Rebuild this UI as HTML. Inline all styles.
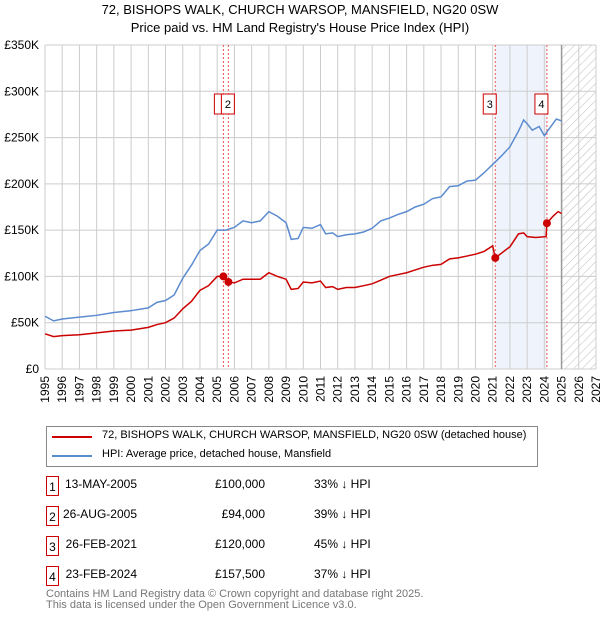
<!DOCTYPE html>
<html><head><meta charset="utf-8"><style>
body{margin:0;background:#fff;font-family:"Liberation Sans","DejaVu Sans",sans-serif;}
#wrap{position:relative;width:600px;height:620px;overflow:hidden}
.t{position:absolute;font-size:12px;color:#000;white-space:nowrap}
.box{position:absolute;left:46px;width:13px;height:20px;border:1px solid #c00;font-size:12px;text-align:center;line-height:20px;box-sizing:border-box}
</style></head><body><div id="wrap">
<div class="t" style="left:0;width:600px;text-align:center;top:2px;font-size:13px">72, BISHOPS WALK, CHURCH WARSOP, MANSFIELD, NG20 0SW</div>
<div class="t" style="left:0;width:600px;text-align:center;top:20px;font-size:13px">Price paid vs. HM Land Registry's House Price Index (HPI)</div>
<svg id="chart" width="600" height="420" style="position:absolute;left:0;top:0" font-family="Liberation Sans, DejaVu Sans, sans-serif"></svg>
<div style="position:absolute;left:46px;top:426px;width:492px;height:41px;border:1px solid #888;box-sizing:border-box">
<div><div style="position:absolute;left:5px;top:9px;width:40px;height:2px;background:#c00"></div><div class="t" style="left:55px;top:2px;font-size:11px">72, BISHOPS WALK, CHURCH WARSOP, MANSFIELD, NG20 0SW (detached house)</div></div>
<div><div style="position:absolute;left:5px;top:28px;width:40px;height:2px;background:#5b8bd0"></div><div class="t" style="left:55px;top:21px;font-size:11px">HPI: Average price, detached house, Mansfield</div></div>
</div>
<div>
<div><div class="box" style="top:476px">1</div><div class="t" style="left:60px;width:77px;text-align:right;top:477px">13-MAY-2005</div><div class="t" style="left:180px;width:85px;text-align:right;top:477px">£100,000</div><div class="t" style="left:314px;top:477px">33% ↓ HPI</div></div>
<div><div class="box" style="top:506px">2</div><div class="t" style="left:60px;width:77px;text-align:right;top:507px">26-AUG-2005</div><div class="t" style="left:180px;width:85px;text-align:right;top:507px">£94,000</div><div class="t" style="left:314px;top:507px">39% ↓ HPI</div></div>
<div><div class="box" style="top:536px">3</div><div class="t" style="left:60px;width:77px;text-align:right;top:537px">26-FEB-2021</div><div class="t" style="left:180px;width:85px;text-align:right;top:537px">£120,000</div><div class="t" style="left:314px;top:537px">45% ↓ HPI</div></div>
<div><div class="box" style="top:566px">4</div><div class="t" style="left:60px;width:77px;text-align:right;top:567px">23-FEB-2024</div><div class="t" style="left:180px;width:85px;text-align:right;top:567px">£157,500</div><div class="t" style="left:314px;top:567px">37% ↓ HPI</div></div>
</div>
<div class="t" style="left:46px;top:589px;font-size:11px;color:#777;line-height:11px">Contains HM Land Registry data © Crown copyright and database right 2025.<br>This data is licensed under the Open Government Licence v3.0.</div>
</div>
<script>
const hpiYears=[1995,1995.5,1996,1997,1998,1999,2000,2001,2001.5,2002,2002.5,2003,2003.5,2004,2004.5,2005,2005.5,2006,2006.5,2007,2007.5,2008,2008.5,2009,2009.3,2009.7,2010,2010.5,2011,2011.3,2011.7,2012,2012.5,2013,2013.5,2014,2014.5,2015,2015.5,2016,2016.5,2017,2017.5,2018,2018.5,2019,2019.5,2020,2020.5,2021,2021.5,2022,2022.5,2022.8,2023,2023.3,2023.7,2024,2024.3,2024.7,2025];
const hpiValues=[57,52,54,56,58,61,63,66,72,74,80,98,112,128,135,150,150,153,160,158,160,170,165,158,140,141,153,152,156,146,147,143,145,146,148,152,160,163,167,170,175,178,184,186,197,198,203,204,212,221,230,240,257,269,265,258,262,252,260,270,268];
const propYears=[1995,1995.5,1996,1997,1998,1999,2000,2001,2001.5,2002,2002.5,2003,2003.5,2004,2004.5,2005,2005.37,2005.65,2006,2006.5,2007,2007.5,2008,2008.5,2009,2009.3,2009.7,2010,2010.5,2011,2011.3,2011.7,2012,2012.5,2013,2013.5,2014,2014.5,2015,2015.5,2016,2016.5,2017,2017.5,2018,2018.5,2019,2019.5,2020,2020.5,2021,2021.15,2021.5,2022,2022.5,2022.8,2023,2023.5,2024.1,2024.15,2024.5,2024.8,2025];
const propValues=[38,35,36,37,39,41,42,45,48,50,55,65,73,85,90,100,100,94,93,97,97,97,104,100,97,86,87,94,93,95,88,89,86,88,88,90,92,96,100,102,104,107,110,112,113,119,120,122,124,127,133,120,125,132,146,147,143,142,143,157.5,165,170,168];
const saleYears=[2005.36,2005.65,2021.15,2024.15];
const saleValues=[100,94,120,157.5];
const saleLabels=["1","2","3","4"];
const yTicks=[0,50,100,150,200,250,300,350];
const yTickLabels=["£0","£50K","£100K","£150K","£200K","£250K","£300K","£350K"];
const xTicks=[1995,1996,1997,1998,1999,2000,2001,2002,2003,2004,2005,2006,2007,2008,2009,2010,2011,2012,2013,2014,2015,2016,2017,2018,2019,2020,2021,2022,2023,2024,2025,2026,2027];

const X0=45,X1=596,Y0=369,Y1=45;
const xs=y=>X0+(y-1995)/(2027-1995)*(X1-X0);
const ys=v=>Y0-v/350*(Y0-Y1);
const svg=document.getElementById('chart');
const NS='http://www.w3.org/2000/svg';
function mk(tag,attrs,parent){const e=document.createElementNS(NS,tag);for(const k in attrs)e.setAttribute(k,attrs[k]);(parent||svg).appendChild(e);return e;}
const defs=mk('defs',{});
const pat=mk('pattern',{id:'hatch',width:6,height:6,patternUnits:'userSpaceOnUse',patternTransform:'rotate(45)'},defs);
mk('line',{x1:0,y1:0,x2:0,y2:6,stroke:'#bbb','stroke-width':1},pat);
let e=mk('rect',{x:xs(2021.15),y:Y1,width:xs(2024.15)-xs(2021.15),height:Y0-Y1,fill:'#eef3fc'});


e=mk('rect',{x:xs(2025),y:Y1,width:X1-xs(2025),height:Y0-Y1,fill:'url(#hatch)'});


xTicks.forEach(t=>{
  const l=mk('line',{x1:xs(t),x2:xs(t),y1:Y1,y2:Y0,stroke:'#ccc','stroke-width':1});
  
  
  const tx=mk('text',{x:0,y:0,'font-size':12,'text-anchor':'end',transform:`translate(${xs(t)+4},${Y0+7}) rotate(-90)`});
  tx.textContent=t;
  
  
});
yTicks.forEach((t,i)=>{
  const l=mk('line',{x1:X0,x2:X1,y1:ys(t),y2:ys(t),stroke:'#ccc','stroke-width':1});
  
  
  const tx=mk('text',{x:X0-6,y:ys(t)+4,'font-size':12,'text-anchor':'end'});
  tx.textContent=yTickLabels[i];
  
  
});
e=mk('line',{x1:xs(2025),x2:xs(2025),y1:Y1,y2:Y0,stroke:'#999','stroke-width':1.5});


saleYears.forEach((y,i)=>{
  const l=mk('line',{x1:xs(y),x2:xs(y),y1:Y1,y2:Y0,stroke:'#e55','stroke-width':1,'stroke-dasharray':'2,2'});
  
  
});
function line(xv,yv,col,name){
  const p=mk('polyline',{points:xv.map((x,i)=>xs(x)+','+ys(yv[i])).join(' '),fill:'none',stroke:col,'stroke-width':1.5});
  
  
}
line(hpiYears,hpiValues,'#5b8bd0','hpi-line');
line(propYears,propValues,'#cc0000','property-price-line');
saleYears.forEach((y,i)=>{
  const c=mk('circle',{cx:xs(y),cy:ys(saleValues[i]),r:4,fill:'#cc0000'});
  
  
  const bx=xs(y)-(i==0?12:(i==1?0:12))+(i==1?-6:0);
  const g=mk('g',{});
  
  
  const left=i==0?xs(y)-9:(i==1?xs(y)-7:xs(y)-12);
  mk('rect',{x:left,y:94,width:13,height:20,fill:'#fff',stroke:'#c00','stroke-width':1},g);
  const t=mk('text',{x:left+6.5,y:108,'font-size':11,'text-anchor':'middle'},g);
  t.textContent=i==0?'':saleLabels[i];
});
</script>
</body></html>
